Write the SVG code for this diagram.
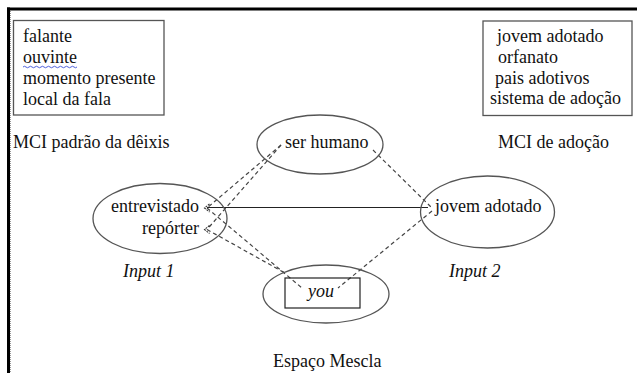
<svg xmlns="http://www.w3.org/2000/svg" width="637" height="373" viewBox="0 0 637 373">
  <style>
    .t { font-family: "Liberation Serif", "Times New Roman", serif; font-size: 18px; fill: #111; }
    .i { font-style: italic; }
    .box { fill: none; stroke: #555; stroke-width: 1.3; }
    .ell { fill: none; stroke: #555; stroke-width: 1.3; }
    .dash { fill: none; stroke: #444; stroke-width: 1.2; stroke-dasharray: 4 3; }
    .solid { fill: none; stroke: #222; stroke-width: 1.2; }
    .chev { fill: none; stroke: #333; stroke-width: 1.1; stroke-dasharray: 2 1; }
  </style>

  <rect width="637" height="373" fill="#fff"/>

  <!-- frame edges (top and left) -->
  <g id="frame">
    <line x1="7" y1="9" x2="637" y2="9" stroke="#000" stroke-width="3"/>
    <line x1="8.5" y1="7.5" x2="8.5" y2="373" stroke="#000" stroke-width="3"/>
    <line x1="10.5" y1="11" x2="10.5" y2="373" stroke="#999" stroke-width="1" stroke-dasharray="1 1"/>
  </g>

  <!-- deixis ICM frame -->
  <g id="mci-deixis">
    <rect class="box" x="13.5" y="20.5" width="150.5" height="94.5"/>
    <text class="t" x="23" y="42">falante</text>
    <text class="t" x="23" y="63">ouvinte</text>
    <path d="M23 67 q1.5 -1.5 3 0 t3 0 t3 0 t3 0 t3 0 t3 0 t3 0 t3 0 t3 0 t3 0 t3 0 t3 0 t3 0 t3 0 t3 0 t3 0 t3 0 t3 0" fill="none" stroke="#3b4fd8" stroke-width="0.9"/>
    <text class="t" x="23" y="84">momento presente</text>
    <text class="t" x="23" y="105">local da fala</text>
    <text class="t" x="13" y="148">MCI padrão da dêixis</text>
  </g>

  <!-- adoption ICM frame -->
  <g id="mci-adocao">
    <rect class="box" x="483" y="21" width="149" height="94.5"/>
    <text class="t" x="497" y="42">jovem adotado</text>
    <text class="t" x="498" y="63">orfanato</text>
    <text class="t" x="495" y="84">pais adotivos</text>
    <text class="t" x="490" y="104">sistema de adoção</text>
    <text class="t" x="498" y="148">MCI de adoção</text>
  </g>

  <!-- connectors -->
  <g id="connectors">
    <line class="solid" x1="207" y1="207.5" x2="428" y2="207.5"/>
    <line class="dash" x1="281" y1="145" x2="207" y2="208"/>
    <line class="dash" x1="281" y1="145" x2="207" y2="229.5"/>
    <line class="dash" x1="373" y1="150" x2="431" y2="207"/>
    <line class="dash" x1="207" y1="208" x2="302" y2="288"/>
    <line class="dash" x1="207" y1="229.5" x2="285" y2="273"/>
    <line class="dash" x1="432" y1="211" x2="338" y2="288"/>
    <path class="chev" d="M209.5 204 L204.5 208 L209.5 212"/>
    <path class="chev" d="M209.5 225.5 L204.5 229.5 L209.5 233.5"/>
  </g>

  <!-- generic space -->
  <g id="ser-humano">
    <ellipse class="ell" cx="320" cy="144.5" rx="63" ry="29.5"/>
    <text class="t" x="285" y="148">ser humano</text>
  </g>

  <!-- input space 1 -->
  <g id="input1">
    <ellipse class="ell" cx="160" cy="218.5" rx="67" ry="35"/>
    <text class="t" x="199" y="212" text-anchor="end">entrevistado</text>
    <text class="t" x="199" y="234" text-anchor="end">repórter</text>
    <text class="t i" x="123" y="277">Input 1</text>
  </g>

  <!-- input space 2 -->
  <g id="input2">
    <ellipse class="ell" cx="487.5" cy="212" rx="67" ry="36"/>
    <text class="t" x="435" y="212">jovem adotado</text>
    <text class="t i" x="449" y="277">Input 2</text>
  </g>

  <!-- blended space -->
  <g id="mescla">
    <ellipse class="ell" cx="326" cy="294" rx="63" ry="29"/>
    <rect x="285" y="278" width="75" height="30" fill="none" stroke="#222" stroke-width="1.2"/>
    <text class="t i" x="308" y="297">you</text>
    <text class="t" x="273" y="367">Espaço Mescla</text>
  </g>
</svg>
